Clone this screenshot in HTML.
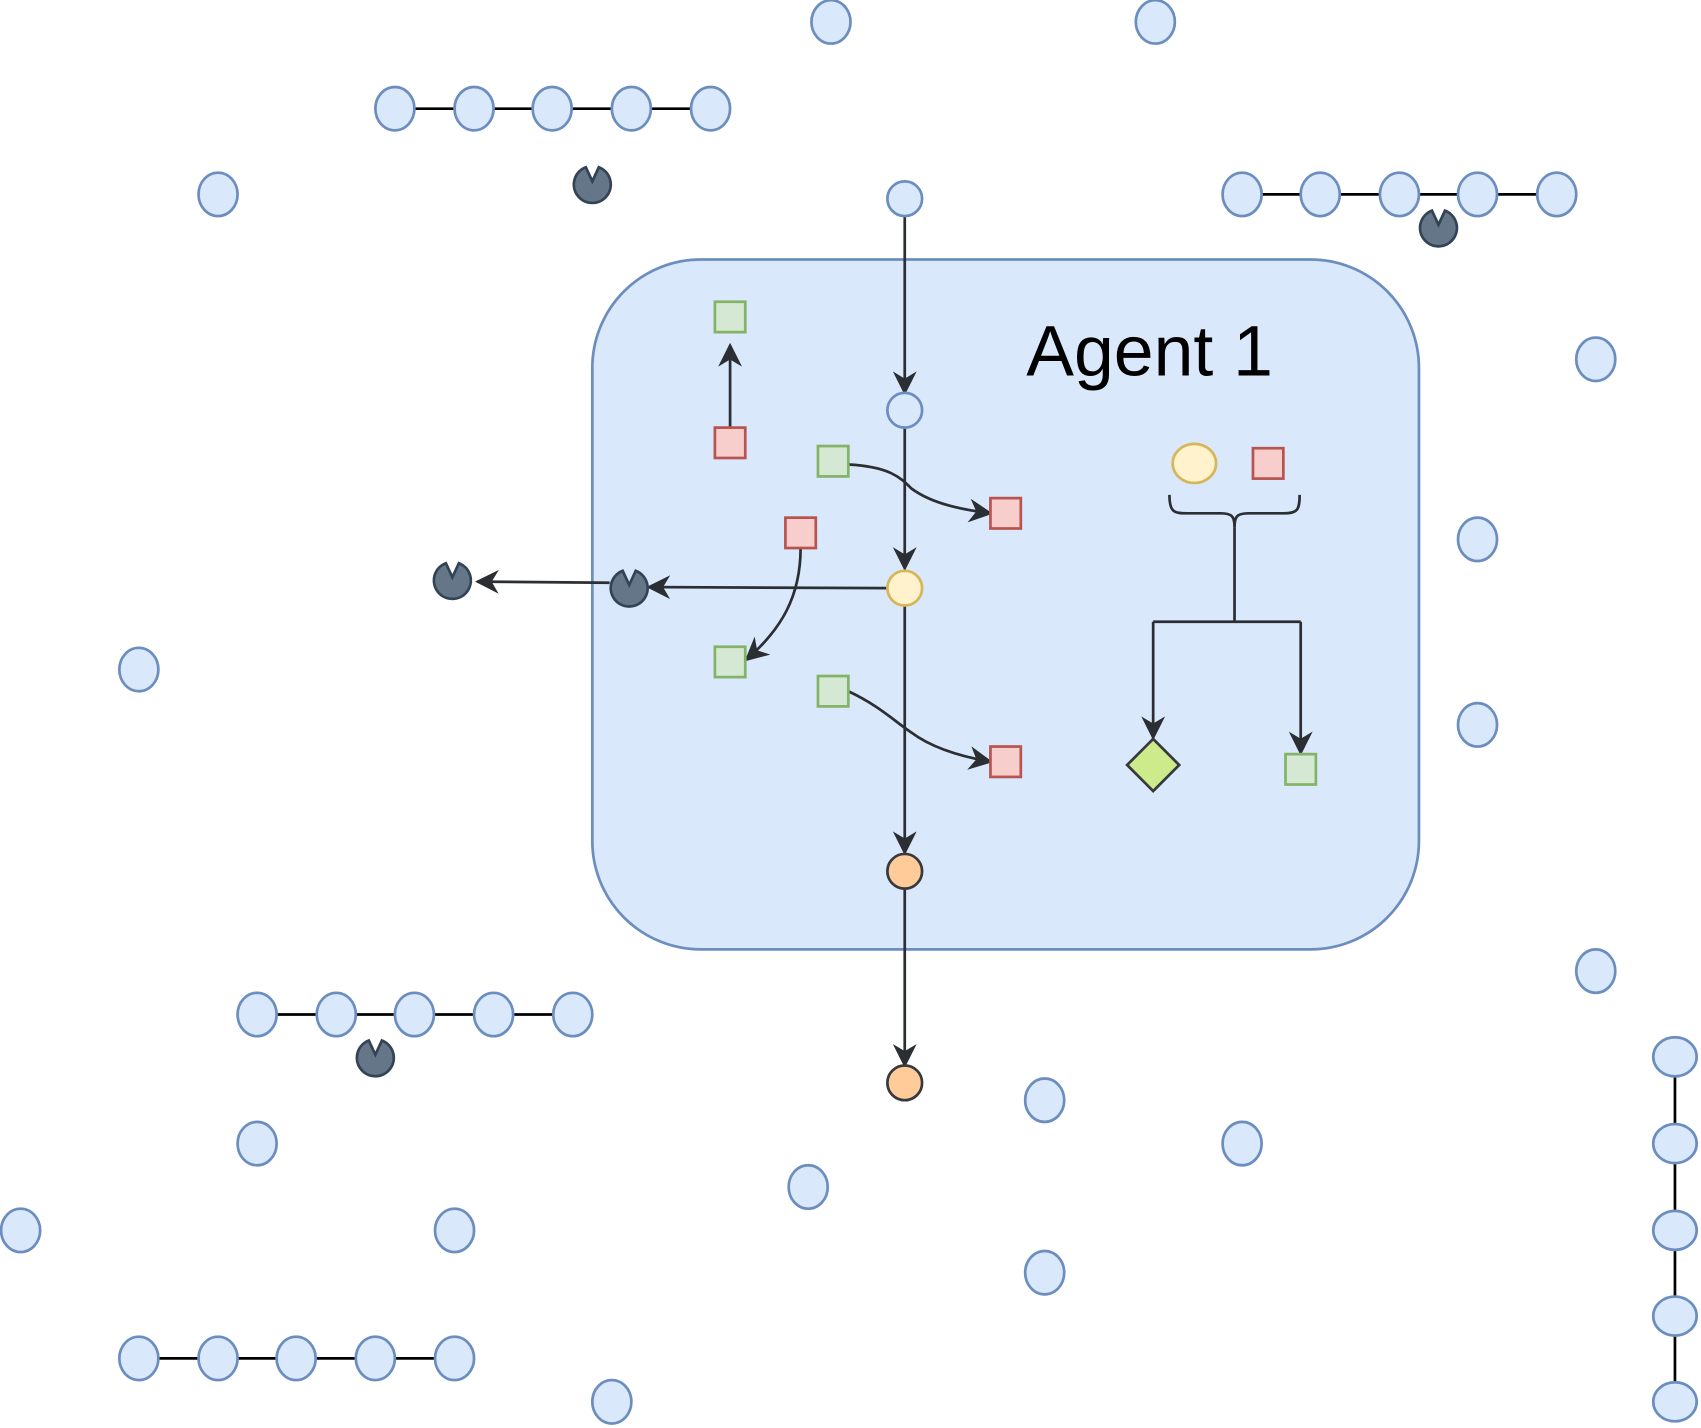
<!DOCTYPE html>
<html><head><meta charset="utf-8"><style>html,body{margin:0;padding:0;background:#fff}svg{display:block}</style></head>
<body>
<svg id="s" width="1701" height="1428" viewBox="0 0 1568 1316" xmlns="http://www.w3.org/2000/svg">
<defs>
<marker id="ar" markerWidth="22" markerHeight="22" refX="9" refY="5" orient="auto" markerUnits="userSpaceOnUse" viewBox="0 0 10 10">
<path d="M0,0 L10,5 L0,10 L3,5 Z" fill="#2b2f33"/></marker>
</defs>
<g id="chains" stroke="#000" stroke-width="2.5"></g>
<rect x="546" y="239" width="762" height="636" rx="100" fill="#dae8fc" stroke="#6c8ebf" stroke-width="2.5"/>
<text x="946" y="346" font-family="Liberation Sans, sans-serif" font-size="66" fill="#000">Agent 1</text>
<g stroke="#2b2f33" stroke-width="2.5" fill="none">
<path d="M834,199 L834,362" marker-end="url(#ar)"/>
<path d="M834,394 L834,524" marker-end="url(#ar)"/>
<path d="M834,558 L834,786" marker-end="url(#ar)"/>
<path d="M834,819 L834,982" marker-end="url(#ar)"/>
<path d="M818,542 L598,541" marker-end="url(#ar)"/>
<path d="M562,537 L440,536" marker-end="url(#ar)"/>
<path d="M673,394 L673,318" marker-end="url(#ar)"/>
<path d="M782,428 C820,430 830,440 840,450 C860,465 890,470 913,473" marker-end="url(#ar)"/>
<path d="M738,505 C738,550 720,580 688,608" marker-end="url(#ar)"/>
<path d="M782,637 C810,650 825,665 840,675 C860,690 890,698 913,702" marker-end="url(#ar)"/>
<path d="M1078,456 C1078,472 1082,473 1095,473 L1125,473 C1136,473 1138,476 1138,486 C1138,476 1140,473 1151,473 L1183,473 C1196,473 1198,470 1198,456"/>
<path d="M1138,486 L1138,573"/>
<path d="M1063,573 L1199,573"/>
<path d="M1063,573 L1063,680" marker-end="url(#ar)"/>
<path d="M1199,573 L1199,694" marker-end="url(#ar)"/>
</g>
<g id="nodes"></g>
</svg>
<script>
const loneX=[766,1065,201,1471,1362,128,1362,1471,963,1145,237,745,19,419,963,564];
const loneY=[20,20,179,331,497,617,668,895,1014,1054,1054,1094,1134,1134,1173,1292];
const chainH=[{y:100,xs:[364,437,509,582,655]},{y:179,xs:[1145,1217,1290,1362,1435]},{y:935,xs:[237,310,382,455,528]},{y:1252,xs:[128,201,273,346,419]}];
const chainVX=1544, chainVY=[974,1054,1134,1213,1292];
const pacX=[546,1326,346,417,580], pacY=[170,210,975,535,542];
const NS='http://www.w3.org/2000/svg';
const g=document.getElementById('nodes'), cg=document.getElementById('chains');
function mk(t,a,p){const e=document.createElementNS(NS,t);for(const k in a)e.setAttribute(k,a[k]);(p||g).appendChild(e);return e;}
function ell(x,y,rx,ry,f,s){return mk('ellipse',{cx:x,cy:y,rx:rx,ry:ry,fill:f,stroke:s,'stroke-width':2.5});}
loneX.forEach((x,i)=>{const e=ell(x,loneY[i],18,20,'#dae8fc','#6c8ebf');

});
chainH.forEach(c=>{const l=mk('line',{x1:c.xs[0],y1:c.y,x2:c.xs[c.xs.length-1],y2:c.y},cg);


c.xs.forEach(x=>{const e=ell(x,c.y,18,20,'#dae8fc','#6c8ebf');

});});
const vl=mk('line',{x1:chainVX,y1:chainVY[0],x2:chainVX,y2:chainVY[4]},cg);


chainVY.forEach(y=>{const e=ell(chainVX,y,20,18,'#dae8fc','#6c8ebf');

});
pacX.forEach((x,i)=>{const y=pacY[i],r=17;
const d=`M${x-6},${y-r+1} L${x},${y-3} L${x+6},${y-r+1} A${r},${r} 0 1 1 ${x-6},${y-r+1} Z`;
const p=mk('path',{d:d,fill:'#647687',stroke:'#314354','stroke-width':2.5});

});
function circ(x,y,f,s,n){const e=mk('circle',{cx:x,cy:y,r:16,fill:f,stroke:s,'stroke-width':2.5});

}
circ(834,183,'#dae8fc','#6c8ebf','input-node');
circ(834,378,'#dae8fc','#6c8ebf','received-node');
circ(834,542,'#fff2cc','#d6b656','decision-node');
circ(834,803,'#ffcc99','#36393d','output-node');
circ(834,998,'#ffcc99','#36393d','final-output-node');
function sq(x,y,f,s,n){const e=mk('rect',{x:x-14,y:y-14,width:28,height:28,fill:f,stroke:s,'stroke-width':2.5});

}
const G=['#d5e8d4','#82b366'],R=['#f8cecc','#b85450'];
sq(673,292,G[0],G[1],'green-square');sq(673,408,R[0],R[1],'red-square');
sq(768,425,G[0],G[1],'green-square');sq(927,473,R[0],R[1],'red-square');
sq(738,491,R[0],R[1],'red-square');sq(673,610,G[0],G[1],'green-square');
sq(768,637,G[0],G[1],'green-square');sq(927,702,R[0],R[1],'red-square');
sq(1169,427,R[0],R[1],'red-square');sq(1199,709,G[0],G[1],'green-square');
const ye=ell(1101,427,20,18,'#fff2cc','#d6b656');


const dm=mk('path',{d:'M1063,681 L1087,705 L1063,729 L1039,705 Z',fill:'#cdeb8b',stroke:'#36393d','stroke-width':2.5});


</script>
</body></html>
